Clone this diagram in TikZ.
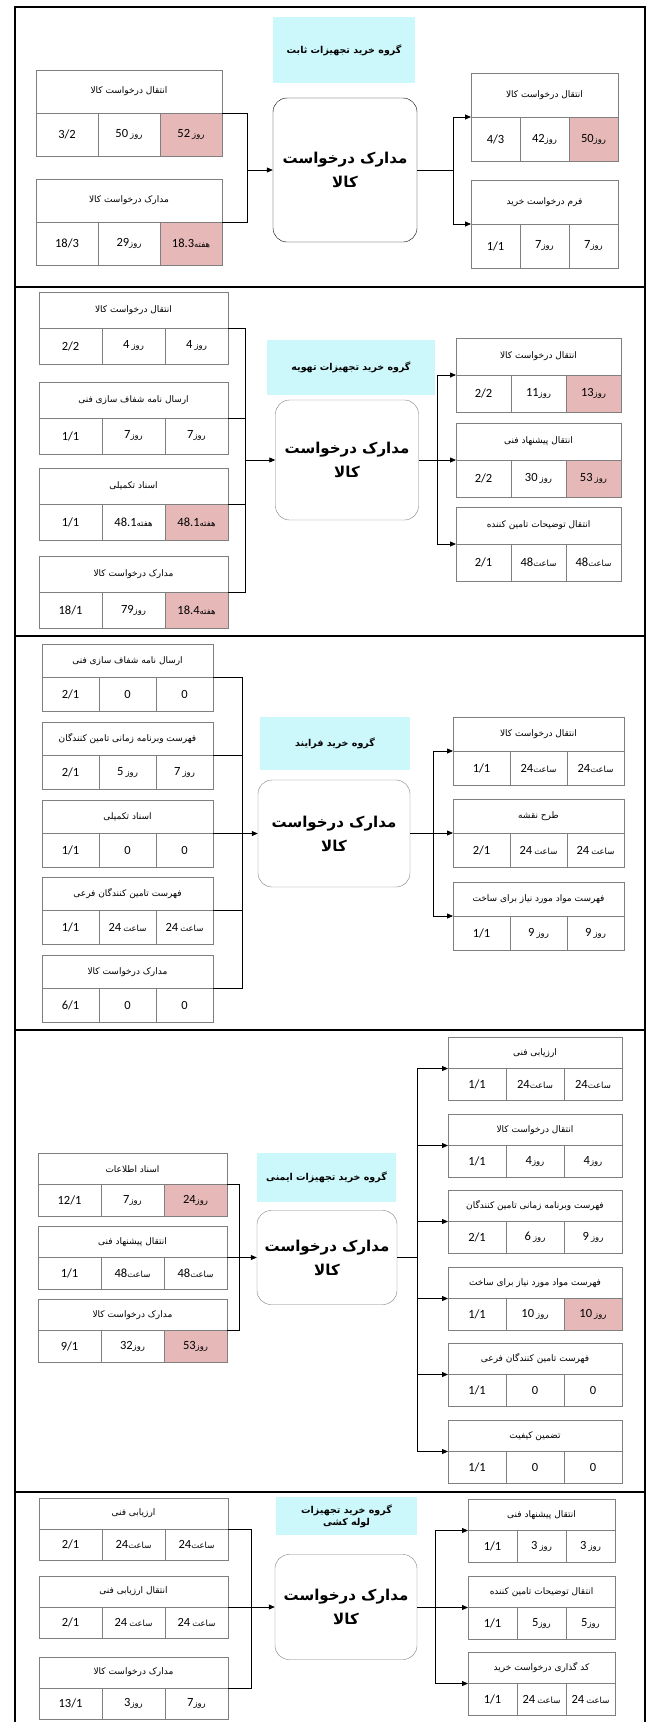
\documentclass[tikz,border=0pt]{standalone}
\usepackage{fontspec}
\setmainfont{Carlito}
\newfontfamily\fa[Script=Arabic]{DejaVu Sans}
\TeXXeTstate=1
\usetikzlibrary{arrows.meta}
\definecolor{late}{HTML}{E6B9B8}
\definecolor{group}{HTML}{CCF8FC}
\definecolor{frame}{HTML}{7F7F7F}

% persian text, right to left
\newcommand{\fat}[1]{{\fa\beginR #1\endR}}
% value: number and unit, tight or with a gap
\newcommand{\valnu}[2]{#1{\fa\fontsize{8.5}{9}\selectfont\beginR #2\endR}}
\newcommand{\valgap}[2]{#1\,{\fa\fontsize{8.5}{9}\selectfont\beginR #2\endR}}
% one document box: header row and three value cells
\newcommand{\docbox}[8][white]{%
  \node[headcell, anchor=north west] (#2) at (#3,#4) {\fat{#5}};
  \node[valcell, anchor=north west] (#2-1) at (#2.south west) {#6};
  \node[valcell, anchor=north west] (#2-2) at (#2-1.north east) {#7};
  \node[valcell, fill=#1, anchor=north west] (#2-3) at (#2-2.north east) {#8};
}

\begin{document}
\begin{tikzpicture}[x=1pt, y=-1pt,
    headcell/.style={draw=frame, fill=white, inner sep=0pt, outer sep=0pt, minimum width=3*\colw, minimum height=\rowh, font=\fa\fontsize{9}{10}\selectfont},
    valcell/.style={draw=frame, inner sep=0pt, outer sep=0pt, minimum width=\colw, minimum height=\rowh, font=\fontsize{12.5}{14}\selectfont},
    core/.style={draw, rounded corners=14pt, fill=white, align=center, inner sep=0pt, font=\fa\bfseries\fontsize{15}{24}\selectfont},
    group/.style={fill=group, align=center, inner sep=0pt, font=\fa\bfseries\fontsize{9.5}{12}\selectfont},
    link/.style={thick},
    arr/.style={thick, -{Triangle[length=6pt, width=5pt]}},
]
\useasboundingbox (0,0) rectangle (649,1722);

% Frame and section lines
\draw[line width=2pt] (15,1730) -- (15,7) -- (645,7) -- (645,1730);
\draw[line width=2pt] (15,287) -- (645,287);
\draw[line width=2pt] (15,636) -- (645,636);
\draw[line width=2pt] (15,1030) -- (645,1030);
\draw[line width=2pt] (15,1492) -- (645,1492);

% Section 1
\node[group, minimum width=142pt, minimum height=66pt] (s1group) at (344,50) {\fat{گروه خرید تجهیزات ثابت}};
\node[core, minimum width=144pt, minimum height=144pt] (s1core) at (345,170) {\fat{مدارک درخواست}\\\fat{کالا}};

\def\colw{62pt}\def\rowh{43pt}
\docbox[late]{s1l1}{36}{70}{انتقال درخواست کالا}{3/2}{\valgap{50}{روز}}{\valgap{52}{روز}}
\docbox[late]{s1l2}{36}{179}{مدارک درخواست کالا}{18/3}{\valnu{29}{روز}}{\valnu{18.3}{هفته}}

\def\colw{49pt}\def\rowh{44pt}
\docbox[late]{s1r1}{471}{73}{انتقال درخواست کالا}{4/3}{\valnu{42}{روز}}{\valnu{50}{روز}}
\docbox{s1r2}{471}{180}{فرم درخواست خرید}{1/1}{\valnu{7}{روز}}{\valnu{7}{روز}}

\coordinate (s1in) at (247,170);
\coordinate (s1out) at (453,170);
\draw[link] (s1l1.south east) -| (s1in);
\draw[link] (s1l2.south east) -| (s1in);
\draw[arr] (s1in) -- (s1core.west);
\draw[link] (s1core.east) -- (s1out);
\draw[arr] (s1out) |- (s1r1.south west);
\draw[arr] (s1out) |- (s1r2.south west);

% Section 2
\node[group, minimum width=168pt, minimum height=55pt] (s2group) at (351,367.5) {\fat{گروه خرید تجهیزات تهویه}};
\node[core, draw=frame, minimum width=143pt, minimum height=120pt] (s2core) at (347,460) {\fat{مدارک درخواست}\\\fat{کالا}};

\def\colw{63pt}\def\rowh{36pt}
\docbox{s2l1}{39}{292}{انتقال درخواست کالا}{2/2}{\valgap{4}{روز}}{\valgap{4}{روز}}
\docbox{s2l2}{39}{382}{ارسال نامه شفاف سازی فنی}{1/1}{\valnu{7}{روز}}{\valnu{7}{روز}}
\docbox[late]{s2l3}{39}{468}{اسناد تکمیلی}{1/1}{\valnu{48.1}{هفته}}{\valnu{48.1}{هفته}}
\docbox[late]{s2l4}{39}{556}{مدارک درخواست کالا}{18/1}{\valnu{79}{روز}}{\valnu{18.4}{هفته}}

\def\colw{55pt}\def\rowh{37pt}
\docbox[late]{s2r1}{456}{338}{انتقال درخواست کالا}{2/2}{\valnu{11}{روز}}{\valnu{13}{روز}}
\docbox[late]{s2r2}{456}{423}{انتقال پیشنهاد فنی}{2/2}{\valgap{30}{روز}}{\valgap{53}{روز}}
\docbox{s2r3}{456}{507}{انتقال توضیحات تامین کننده}{2/1}{\valnu{48}{ساعت}}{\valnu{48}{ساعت}}

\coordinate (s2in) at (245,460);
\coordinate (s2out) at (437,460);
\draw[link] (s2l1.south east) -| (s2in);
\draw[link] (s2l2.south east) -| (s2in);
\draw[link] (s2l3.south east) -| (s2in);
\draw[link] (s2l4.south east) -| (s2in);
\draw[arr] (s2in) -- (s2core.west);
\draw[link] (s2core.east) -- (s2out);
\draw[arr] (s2out) |- (s2r1.south west);
\draw[arr] (s2out) |- (s2r2.south west);
\draw[arr] (s2out) |- (s2r3.south west);

% Section 3
\node[group, minimum width=150pt, minimum height=53pt] (s3group) at (335,743.5) {\fat{گروه خرید فرایند}};
\node[core, draw=frame, minimum width=152pt, minimum height=107pt] (s3core) at (334,833.5) {\fat{مدارک درخواست}\\\fat{کالا}};

\def\colw{57pt}\def\rowh{33.5pt}
\docbox{s3l1}{42}{644}{ارسال نامه شفاف سازی فنی}{2/1}{0}{0}
\docbox{s3l2}{42}{722}{فهرست وبرنامه زمانی تامین کنندگان}{2/1}{\valgap{5}{روز}}{\valgap{7}{روز}}
\docbox{s3l3}{42}{800}{اسناد تکمیلی}{1/1}{0}{0}
\docbox{s3l4}{42}{877}{فهرست  تامین کنندگان فرعی}{1/1}{\valgap{24}{ساعت}}{\valgap{24}{ساعت}}
\docbox{s3l5}{42}{955}{مدارک درخواست کالا}{6/1}{0}{0}

\def\colw{57pt}\def\rowh{34pt}
\docbox{s3r1}{453}{717}{انتقال درخواست کالا}{1/1}{\valnu{24}{ساعت}}{\valnu{24}{ساعت}}
\docbox{s3r2}{453}{799}{طرح نقشه}{2/1}{\valgap{24}{ساعت}}{\valgap{24}{ساعت}}
\docbox{s3r3}{453}{882}{فهرست مواد مورد نیاز برای ساخت}{1/1}{\valgap{9}{روز}}{\valgap{9}{روز}}

\coordinate (s3in) at (242,833.5);
\coordinate (s3out) at (433,833.5);
\draw[link] (s3l1.south east) -| (s3in);
\draw[link] (s3l2.south east) -| (s3in);
\draw[link] (s3l3.south east) -| (s3in);
\draw[link] (s3l4.south east) -| (s3in);
\draw[link] (s3l5.south east) -| (s3in);
\draw[arr] (s3in) -- (s3core.west);
\draw[link] (s3core.east) -- (s3out);
\draw[arr] (s3out) |- (s3r1.south west);
\draw[arr] (s3out) |- (s3r2.south west);
\draw[arr] (s3out) |- (s3r3.south west);

% Section 4
\node[group, minimum width=139pt, minimum height=49pt] (s4group) at (326.5,1177.5) {\fat{گروه خرید تجهیزات ایمنی}};
\node[core, draw=frame, minimum width=140pt, minimum height=94pt] (s4core) at (327,1257.5) {\fat{مدارک درخواست}\\\fat{کالا}};

\def\colw{63pt}\def\rowh{31.5pt}
\docbox[late]{s4l1}{38}{1153}{اسناد اطلاعات}{12/1}{\valnu{7}{روز}}{\valnu{24}{روز}}
\docbox{s4l2}{38}{1226}{انتقال پیشنهاد فنی}{1/1}{\valnu{48}{ساعت}}{\valnu{48}{ساعت}}
\docbox[late]{s4l3}{38}{1299}{مدارک درخواست کالا}{9/1}{\valnu{32}{روز}}{\valnu{53}{روز}}

\def\colw{58pt}\def\rowh{31.5pt}
\docbox{s4r1}{448}{1037}{ارزیابی فنی}{1/1}{\valnu{24}{ساعت}}{\valnu{24}{ساعت}}
\docbox{s4r2}{448}{1114}{انتقال درخواست کالا}{1/1}{\valnu{4}{روز}}{\valnu{4}{روز}}
\docbox{s4r3}{448}{1190}{فهرست وبرنامه زمانی تامین کنندگان}{2/1}{\valgap{6}{روز}}{\valgap{9}{روز}}
\docbox[late]{s4r4}{448}{1267}{فهرست مواد مورد نیاز برای ساخت}{1/1}{\valgap{10}{روز}}{\valgap{10}{روز}}
\docbox{s4r5}{448}{1343}{فهرست  تامین کنندگان فرعی}{1/1}{0}{0}
\docbox{s4r6}{448}{1420}{تضمین کیفیت}{1/1}{0}{0}

\coordinate (s4in) at (239,1257.5);
\coordinate (s4out) at (417,1257.5);
\draw[link] (s4l1.south east) -| (s4in);
\draw[link] (s4l2.south east) -| (s4in);
\draw[link] (s4l3.south east) -| (s4in);
\draw[arr] (s4in) -- (s4core.west);
\draw[link] (s4core.east) -- (s4out);
\draw[arr] (s4out) |- (s4r1.south west);
\draw[arr] (s4out) |- (s4r2.south west);
\draw[arr] (s4out) |- (s4r3.south west);
\draw[arr] (s4out) |- (s4r4.south west);
\draw[arr] (s4out) |- (s4r5.south west);
\draw[arr] (s4out) |- (s4r6.south west);

% Section 5
\node[group, minimum width=141pt, minimum height=38pt] (s5group) at (346.5,1516) {\fat{گروه خرید تجهیزات}\\\fat{لوله کشی}};
\node[core, draw=frame, minimum width=142pt, minimum height=105pt] (s5core) at (346,1607) {\fat{مدارک درخواست}\\\fat{کالا}};

\def\colw{63pt}\def\rowh{31pt}
\docbox{s5l1}{39}{1498}{ارزیابی فنی}{2/1}{\valnu{24}{ساعت}}{\valnu{24}{ساعت}}
\docbox{s5l2}{39}{1576}{انتقال ارزیابی فنی}{2/1}{\valgap{24}{ساعت}}{\valgap{24}{ساعت}}
\docbox{s5l3}{39}{1657}{مدارک درخواست کالا}{13/1}{\valnu{3}{روز}}{\valnu{7}{روز}}

\def\colw{49pt}\def\rowh{31.5pt}
\docbox{s5r1}{468}{1499}{انتقال پیشنهاد فنی}{1/1}{\valgap{3}{روز}}{\valgap{3}{روز}}
\docbox{s5r2}{468}{1576}{انتقال توضیحات تامین کننده}{1/1}{\valnu{5}{روز}}{\valnu{5}{روز}}
\docbox{s5r3}{468}{1652}{کد گذاری درخواست خرید}{1/1}{\valgap{24}{ساعت}}{\valgap{24}{ساعت}}

\coordinate (s5in) at (251,1607);
\coordinate (s5out) at (435,1607);
\draw[link] (s5l1.south east) -| (s5in);
\draw[link] (s5l2.south east) -| (s5in);
\draw[link] (s5l3.south east) -| (s5in);
\draw[arr] (s5in) -- (s5core.west);
\draw[link] (s5core.east) -- (s5out);
\draw[arr] (s5out) |- (s5r1.south west);
\draw[arr] (s5out) |- (s5r2.south west);
\draw[arr] (s5out) |- (s5r3.south west);

\end{tikzpicture}
\end{document}
